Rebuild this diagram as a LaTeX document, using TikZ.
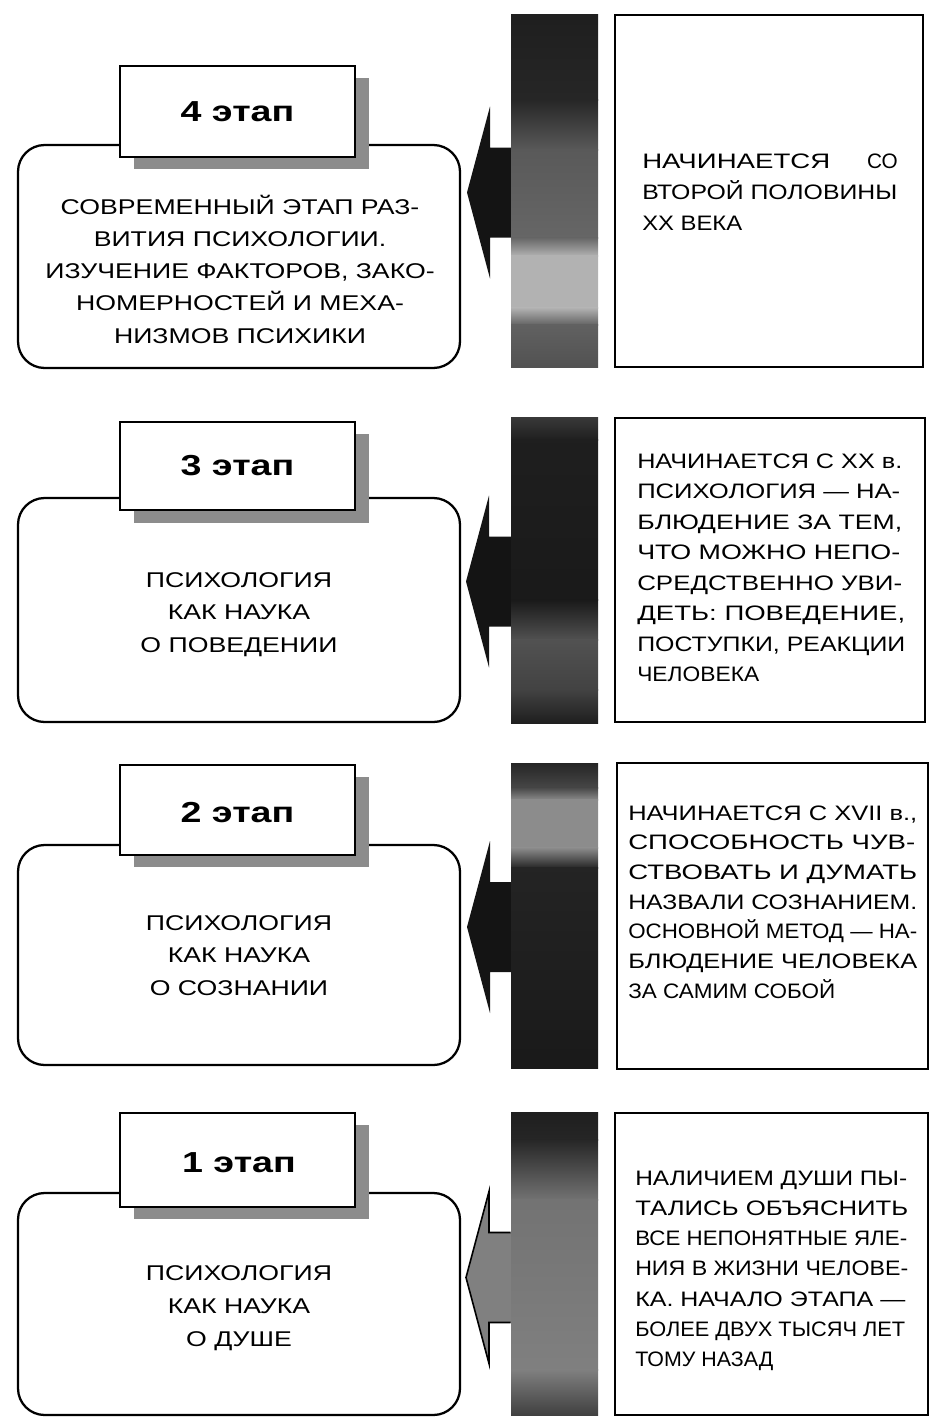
\documentclass[tikz,border=0pt]{standalone}
\usepackage{fontspec}
\usepackage{graphicx}
\setmainfont{Liberation Sans}
\newfontfamily\lfam{Liberation Sans}[FakeStretch=1.25]
\newfontfamily\hfam{Liberation Sans}[FakeStretch=1.3]
\usetikzlibrary{fit,calc}
\newcommand\ltxt{\lfam\fontsize{16}{20}\selectfont}
\newcommand\rtxt{\fontsize{15.7}{20}\selectfont}
\newcommand\htxt{\hfam\bfseries\fontsize{21.7}{24}\selectfont}
\newsavebox\jbox
\newcommand\jline[2]{\sbox\jbox{#2}\pgfmathsetmacro\jscale{#1/\the\wd\jbox}\scalebox{\jscale}[1]{\usebox\jbox}}
\newcommand\barseg[4]{\shade[top color=#3, bottom color=#4] ($(511,#1)+(0,-0.4)$) rectangle ($(598,#2)+(0,0.4)$);}
\newcommand\stagearrow[3]{%
  \fill[#1] (#2) -- ($(#2)+(23,-86)$) -- ($(#2)+(23,-45)$) -- ($(#3.west |- #2)+(1,-45)$)
    -- ($(#3.west |- #2)+(1,45)$) -- ($(#2)+(23,45)$) -- ($(#2)+(23,86)$) -- cycle;}
\newcommand\stageoutline[2]{%
  \draw[line width=1.2pt, line join=miter] ($(#2.west |- #1)+(0,-45)$) -- ($(#1)+(23,-45)$) -- ($(#1)+(23,-86)$)
    -- (#1) -- ($(#1)+(23,86)$) -- ($(#1)+(23,45)$) -- ($(#2.west |- #1)+(0,45)$);}
\begin{document}
\begin{tikzpicture}[x=0.75pt,y=-0.75pt,
  roundbox/.style={draw, line width=1.7pt, rounded corners=20pt, inner sep=0pt},
  headbox/.style={draw, line width=1.5pt, fill=white, inner sep=0pt},
  shadowbox/.style={fill=black!45, inner sep=0pt},
  notebox/.style={draw, line width=1.5pt, inner sep=0pt},
  barbox/.style={inner sep=0pt},
  ltext/.style={font=\ltxt, inner sep=0pt, anchor=base},
  rtext/.style={font=\rtxt, inner sep=0pt, anchor=base west},
  htext/.style={font=\htxt, inner sep=0pt, anchor=base},
  darrow/.style={fill=black!92},
  larrow/.style={fill=black!50}]
\useasboundingbox (0,0) rectangle (932,1417);
\fill[white] (0,0) rectangle (932,1417);

% ---------------- Stage 4 ----------------
\node[roundbox, fit={(18,145)(460,368)}] (round4) {};
\node[shadowbox, fit={(134,78)(369,169)}] (shadow4) {};
\node[headbox, fit={(120,66)(355,157)}] (head4) {};
\node[htext] (title4) at (237.5,121) {4 этап};
\node[ltext] (l4a) at (240,214) {СОВРЕМЕННЫЙ ЭТАП РАЗ-};
\node[ltext] (l4b) at (240,246.25) {ВИТИЯ ПСИХОЛОГИИ.};
\node[ltext] (l4c) at (240,278.5) {ИЗУЧЕНИЕ ФАКТОРОВ, ЗАКО-};
\node[ltext] (l4d) at (240,310.75) {НОМЕРНОСТЕЙ И МЕХА-};
\node[ltext] (l4e) at (240,343) {НИЗМОВ ПСИХИКИ};
\node[barbox, fit={(511,15)(598,367)}] (bar4) {};
\coordinate (tip4) at (467,192.5);
\stagearrow{darrow}{tip4}{bar4}
\barseg{15}{100}{black!88}{black!85}
\barseg{100}{150}{black!85}{black!65}
\barseg{150}{238}{black!65}{black!60}
\barseg{238}{256}{black!60}{black!30}
\barseg{256}{308}{black!30}{black!30}
\barseg{308}{325}{black!30}{black!62}
\barseg{325}{367}{black!62}{black!68}
\node[notebox, fit={(615,15)(923,367)}] (note4) {};
\node[rtext] (r4a) at (642,168) {\jline{141pt}{НАЧИНАЕТСЯ}};
\node[rtext, anchor=base east] (r4a2) at (898,168) {\jline{23pt}{^^^^0421^^^^041e}};
\node[rtext] (r4b) at (642,199.5) {\jline{191.25pt}{ВТОРОЙ ПОЛОВИНЫ}};
\node[rtext] (r4c) at (642,230) {\jline{75pt}{XX ВЕКА}};

% ---------------- Stage 3 ----------------
\node[roundbox, fit={(18,498)(460,722)}] (round3) {};
\node[shadowbox, fit={(134,434)(369,523)}] (shadow3) {};
\node[headbox, fit={(120,422)(355,510)}] (head3) {};
\node[htext] (title3) at (237.5,475) {3 этап};
\node[ltext] (l3a) at (239,587) {ПСИХОЛОГИЯ};
\node[ltext] (l3b) at (239,619.5) {КАК НАУКА};
\node[ltext] (l3c) at (239,652) {О ПОВЕДЕНИИ};
\node[barbox, fit={(511,418)(598,723)}] (bar3) {};
\coordinate (tip3) at (466,581.5);
\stagearrow{darrow}{tip3}{bar3}
\barseg{418}{440}{black!78}{black!88}
\barseg{440}{600}{black!88}{black!90}
\barseg{600}{640}{black!90}{black!68}
\barseg{640}{690}{black!68}{black!74}
\barseg{690}{723}{black!74}{black!88}
\node[notebox, fit={(615,418)(925,722)}] (note3) {};
\node[rtext] (r3a) at (637,468.3) {\jline{198.75pt}{НАЧИНАЕТСЯ С XX в.}};
\node[rtext] (r3b) at (637,498.8) {\jline{197.25pt}{ПСИХОЛОГИЯ — НА-}};
\node[rtext] (r3c) at (637,529.3) {\jline{198.75pt}{БЛЮДЕНИЕ ЗА ТЕМ,}};
\node[rtext] (r3d) at (637,559.7) {\jline{197.25pt}{ЧТО МОЖНО НЕПО-}};
\node[rtext] (r3e) at (637,590.2) {\jline{198.75pt}{СРЕДСТВЕННО УВИ-}};
\node[rtext] (r3f) at (637,620.7) {\jline{201pt}{ДЕТЬ: ПОВЕДЕНИЕ,}};
\node[rtext] (r3g) at (637,651.2) {\jline{201pt}{ПОСТУПКИ, РЕАКЦИИ}};
\node[rtext] (r3h) at (637,681.7) {\jline{91.5pt}{ЧЕЛОВЕКА}};

% ---------------- Stage 2 ----------------
\node[roundbox, fit={(18,845)(460,1065)}] (round2) {};
\node[shadowbox, fit={(134,777)(369,867)}] (shadow2) {};
\node[headbox, fit={(120,765)(355,855)}] (head2) {};
\node[htext] (title2) at (237.5,822) {2 этап};
\node[ltext] (l2a) at (239,930) {ПСИХОЛОГИЯ};
\node[ltext] (l2b) at (239,962.5) {КАК НАУКА};
\node[ltext] (l2c) at (239,995) {О СОЗНАНИИ};
\node[barbox, fit={(511,764)(598,1068)}] (bar2) {};
\coordinate (tip2) at (467,927);
\stagearrow{darrow}{tip2}{bar2}
\barseg{764}{788}{black!85}{black!72}
\barseg{788}{800}{black!72}{black!45}
\barseg{800}{848}{black!45}{black!45}
\barseg{848}{868}{black!45}{black!86}
\barseg{868}{1068}{black!86}{black!90}
\node[notebox, fit={(617,763)(928,1069)}] (note2) {};
\node[rtext] (r2a) at (628,820) {\jline{216.75pt}{НАЧИНАЕТСЯ С XVII в.,}};
\node[rtext] (r2b) at (628,849.7) {\jline{215.25pt}{СПОСОБНОСТЬ ЧУВ-}};
\node[rtext] (r2c) at (628,879.4) {\jline{216.75pt}{СТВОВАТЬ И ДУМАТЬ}};
\node[rtext] (r2d) at (628,909.1) {\jline{216.75pt}{НАЗВАЛИ СОЗНАНИЕМ.}};
\node[rtext] (r2e) at (628,938.8) {\jline{216.75pt}{ОСНОВНОЙ МЕТОД — НА-}};
\node[rtext] (r2f) at (628,968.5) {\jline{216.75pt}{БЛЮДЕНИЕ ЧЕЛОВЕКА}};
\node[rtext] (r2g) at (628,998.3) {\jline{155.25pt}{ЗА САМИМ СОБОЙ}};

% ---------------- Stage 1 ----------------
\node[roundbox, fit={(18,1193)(460,1415)}] (round1) {};
\node[shadowbox, fit={(134,1125)(369,1219)}] (shadow1) {};
\node[headbox, fit={(120,1113)(355,1207)}] (head1) {};
\node[htext] (title1) at (239,1172) {1 этап};
\node[ltext] (l1a) at (239,1280) {ПСИХОЛОГИЯ};
\node[ltext] (l1b) at (239,1313) {КАК НАУКА};
\node[ltext] (l1c) at (239,1346) {О ДУШЕ};
\node[barbox, fit={(511,1113)(598,1415)}] (bar1) {};
\coordinate (tip1) at (466,1277.5);
\stagearrow{larrow}{tip1}{bar1}
\barseg{1113}{1140}{black!88}{black!85}
\barseg{1140}{1200}{black!85}{black!55}
\barseg{1200}{1370}{black!55}{black!50}
\barseg{1370}{1415}{black!50}{black!75}
\stageoutline{tip1}{bar1}
\node[notebox, fit={(615,1113)(928,1415)}] (note1) {};
\node[rtext] (r1a) at (635,1185) {\jline{204pt}{НАЛИЧИЕМ ДУШИ ПЫ-}};
\node[rtext] (r1b) at (635,1215.3) {\jline{204.75pt}{ТАЛИСЬ ОБЪЯСНИТЬ}};
\node[rtext] (r1c) at (635,1245.6) {\jline{204pt}{ВСЕ НЕПОНЯТНЫЕ ЯЛЕ-}};
\node[rtext] (r1d) at (635,1275.8) {\jline{204.75pt}{НИЯ В ЖИЗНИ ЧЕЛОВЕ-}};
\node[rtext] (r1e) at (635,1306.1) {\jline{202.5pt}{КА. НАЧАЛО ЭТАПА —}};
\node[rtext] (r1f) at (635,1336.4) {\jline{202.5pt}{БОЛЕЕ ДВУХ ТЫСЯЧ ЛЕТ}};
\node[rtext] (r1g) at (635,1366.7) {\jline{103.5pt}{ТОМУ НАЗАД}};
\end{tikzpicture}
\end{document}
